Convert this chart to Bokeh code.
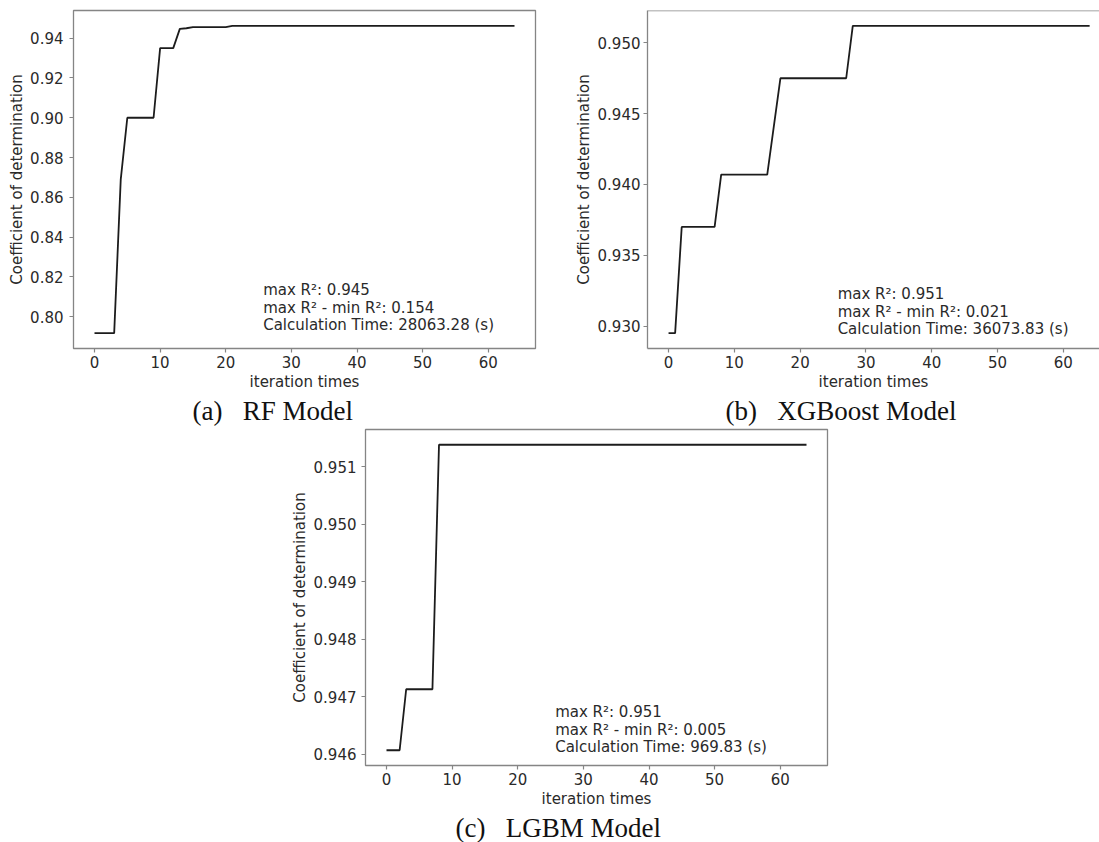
from bokeh.plotting import figure
from bokeh.models import Label, Span, Spacer, FixedTicker, NumeralTickFormatter, Range1d, Title
from bokeh.layouts import column, row
from bokeh.embed import file_html
from bokeh.resources import INLINE

# ---------------- data ----------------
rf_iter = [0, 3, 4, 5, 9, 10, 12, 13, 14, 15, 20, 21, 64]
rf_r2 = [0.7917, 0.7917, 0.8690, 0.9000, 0.9000, 0.9350, 0.9350,
         0.9447, 0.9450, 0.9456, 0.9456, 0.9462, 0.9462]

xgb_iter = [0, 1, 2, 7, 8, 15, 16, 17, 27, 28, 64]
xgb_r2 = [0.9295, 0.9295, 0.9370, 0.9370, 0.9407, 0.9407, 0.9441,
          0.9475, 0.9475, 0.9512, 0.9512]

lgbm_iter = [0, 2, 3, 7, 8, 64]
lgbm_r2 = [0.94607, 0.94607, 0.94713, 0.94713, 0.95138, 0.95138]

x_ticks = [0, 10, 20, 30, 40, 50, 60]
rf_y_ticks = [0.80, 0.82, 0.84, 0.86, 0.88, 0.90, 0.92, 0.94]
xgb_y_ticks = [0.930, 0.935, 0.940, 0.945, 0.950]
lgbm_y_ticks = [0.946, 0.947, 0.948, 0.949, 0.950, 0.951]

rf_note = ["max R²: 0.945", "max R² - min R²: 0.154", "Calculation Time: 28063.28 (s)"]
xgb_note = ["max R²: 0.951", "max R² - min R²: 0.021", "Calculation Time: 36073.83 (s)"]
lgbm_note = ["max R²: 0.951", "max R² - min R²: 0.005", "Calculation Time: 969.83 (s)"]

captions = ["(a) \u00a0 RF Model", "(b) \u00a0 XGBoost Model", "(c) \u00a0 LGBM Model"]
x_label = "iteration times"
y_label = "Coefficient of determination"

SANS = "DejaVu Sans"
SERIF = "Liberation Serif"
TXT = "#2a2a2a"
SPINE = "#858585"


def panel(xs, ys, yticks, fmt, note, caption, width, height, mb,
          cap_offset, y_std, ylab_std, note_dy, x_crop=None):
    ml, mt, mr, mbot = mb
    y0, y1 = min(ys), max(ys)
    ypad = 0.05 * (y1 - y0)
    xpad = 0.05 * (max(xs) - min(xs))
    xs0 = min(xs) - xpad
    xs1 = x_crop if x_crop is not None else max(xs) + xpad
    ys0, ys1 = y0 - ypad, y1 + ypad
    p = figure(width=width, height=height, output_backend="svg",
               toolbar_location=None,
               x_range=Range1d(xs0, xs1), y_range=Range1d(ys0, ys1),
               min_border_left=ml, min_border_top=mt,
               min_border_right=mr, min_border_bottom=mbot)
    p.xgrid.visible = False
    p.ygrid.visible = False
    p.background_fill_color = "white"
    p.border_fill_color = "white"

    p.line(xs, ys, line_color="#1c1c1c", line_width=1.8)

    open_right = x_crop is not None
    p.outline_line_color = None if open_right else SPINE
    p.outline_line_width = 1.3

    p.xaxis.ticker = FixedTicker(ticks=x_ticks)
    p.yaxis.ticker = FixedTicker(ticks=yticks)
    p.yaxis.formatter = NumeralTickFormatter(format=fmt)
    p.xaxis.axis_label = x_label
    p.yaxis.axis_label = y_label
    for ax in (p.xaxis[0], p.yaxis[0]):
        ax.axis_line_color = SPINE if open_right else None
        ax.axis_line_width = 1.3
        ax.major_tick_line_color = SPINE
        ax.major_tick_line_width = 1.2
        ax.major_tick_in = 0
        ax.major_tick_out = 4
        ax.minor_tick_line_color = None
        ax.major_label_text_font = SANS
        ax.major_label_text_font_size = "15px"
        ax.major_label_text_color = TXT
        ax.axis_label_text_font = SANS
        ax.axis_label_text_font_size = "15px"
        ax.axis_label_text_font_style = "normal"
        ax.axis_label_text_color = TXT
    p.xaxis.major_label_standoff = 3
    p.xaxis.axis_label_standoff = 2
    p.yaxis.major_label_standoff = y_std
    p.yaxis.axis_label_standoff = ylab_std

    if open_right:
        p.add_layout(Span(location=ys1, dimension="width",
                          line_color=SPINE, line_width=1.3))

    for i, line in enumerate(note):
        p.add_layout(Label(x=25.7, y=y0, text=line,
                           y_offset=(len(note) - 1 - i) * 17.5 + note_dy,
                           text_font=SANS, text_font_size="15px",
                           text_color=TXT, text_baseline="bottom",
                           text_align="left"))

    p.add_layout(Title(text=caption, align="left", offset=cap_offset,
                       text_font=SERIF, text_font_size="27px",
                       text_font_style="normal", text_color="#111111",
                       standoff=0), "below")
    return p


pa = panel(rf_iter, rf_r2, rf_y_ticks, "0.00", rf_note, captions[0],
           width=570, height=428, mb=(73, 10, 35, 80),
           cap_offset=192 - 73, y_std=6, ylab_std=1, note_dy=-1)
pb = panel(xgb_iter, xgb_r2, xgb_y_ticks, "0.000", xgb_note, captions[1],
           width=529, height=428, mb=(77, 10, 0, 80),
           cap_offset=725 - 647, y_std=3, ylab_std=2, note_dy=-5, x_crop=65.5)
pc = panel(lgbm_iter, lgbm_r2, lgbm_y_ticks, "0.000", lgbm_note, captions[2],
           width=562, height=414, mb=(80, 1, 20, 76),
           cap_offset=455 - 365, y_std=5, ylab_std=2, note_dy=-6)

layout = column(row(pa, pb), row(Spacer(width=285, height=414), pc))

open("out.html", "w").write(file_html(layout, INLINE))
